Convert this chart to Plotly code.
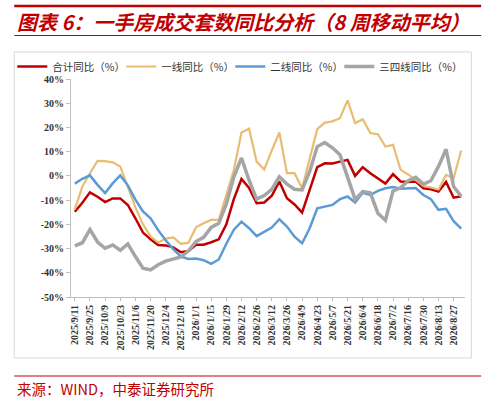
import plotly.graph_objects as go

# weekly dates (category axis)
weeks = [
    "2025/9/11", "2025/9/18", "2025/9/25", "2025/10/2", "2025/10/9", "2025/10/16",
    "2025/10/23", "2025/10/30", "2025/11/6", "2025/11/13", "2025/11/20", "2025/11/27",
    "2025/12/4", "2025/12/11", "2025/12/18", "2025/12/25", "2026/1/1", "2026/1/8",
    "2026/1/15", "2026/1/22", "2026/1/29", "2026/2/5", "2026/2/12", "2026/2/19",
    "2026/2/26", "2026/3/5", "2026/3/12", "2026/3/19", "2026/3/26", "2026/4/2",
    "2026/4/9", "2026/4/16", "2026/4/23", "2026/4/30", "2026/5/7", "2026/5/14",
    "2026/5/21", "2026/5/28", "2026/6/4", "2026/6/11", "2026/6/18", "2026/6/25",
    "2026/7/2", "2026/7/9", "2026/7/16", "2026/7/23", "2026/7/30", "2026/8/6",
    "2026/8/13", "2026/8/20", "2026/8/27", "2026/9/3",
]
x_ticks = weeks[::2]

total_yoy = [
    -14.8, -11.1, -6.8, -8.6, -10.8, -9.3, -9.3, -12.0, -17.5, -23.4, -26.2, -28.5,
    -28.7, -29.5, -31.5, -31.0, -28.4, -28.4, -27.4, -26.2, -20.0, -9.5, -1.3, -5.0,
    -11.3, -11.0, -8.2, -2.3, -9.2, -11.8, -15.2, -5.8, 3.6, 5.2, 5.1, 5.9,
    6.6, 0.0, 3.6, 1.1, -1.0, -3.2, 0.7, -2.3, -2.5, -2.3, -5.1, -5.5,
    -6.5, -2.5, -9.0, -8.4,
]
tier1_yoy = [
    -13.8, -4.4, 1.1, 6.2, 6.1, 5.6, 3.9, -4.4, -13.0, -20.0, -25.0, -27.5,
    -25.9, -25.4, -28.1, -27.6, -21.2, -19.6, -18.2, -18.2, -8.0, 2.5, 17.9, 19.5,
    5.9, 2.6, 10.5, 17.9, 1.1, 1.1, -5.1, 6.6, 19.3, 22.0, 22.5, 23.8,
    31.2, 21.8, 23.4, 17.7, 17.2, 12.1, 12.8, 2.5, 0.6, -1.7, -4.2, -4.8,
    -5.6, 0.4, -1.0, 10.5,
]
tier2_yoy = [
    -3.2, -1.2, 0.2, -3.7, -7.1, -3.1, 0.2, -3.9, -9.8, -14.7, -17.5, -22.4,
    -26.6, -30.2, -33.3, -34.3, -34.1, -34.8, -36.3, -34.5, -28.0, -22.2, -18.9, -21.6,
    -24.9, -23.2, -21.3, -17.9, -20.9, -25.1, -27.8, -21.6, -13.4, -12.7, -12.0, -9.6,
    -8.5, -11.0, -7.0, -7.9, -6.2, -5.1, -4.6, -5.3, -5.1, -5.0, -7.9, -9.6,
    -14.0, -13.6, -18.7, -21.8,
]
tier34_yoy = [
    -28.9, -27.6, -22.1, -27.3, -29.9, -28.5, -30.7, -28.1, -33.3, -38.1, -38.8, -36.7,
    -35.2, -34.2, -33.5, -30.9, -27.1, -25.4, -21.3, -19.6, -11.6, -0.4, 7.4, -1.8,
    -9.6, -8.1, -5.6, -0.4, -3.4, -5.5, -5.8, 1.8, 12.1, 13.8, 11.6, 8.7,
    0.0, -9.7, -6.5, -7.0, -15.4, -18.3, -6.2, -4.9, -2.0, -0.6, -3.4, -2.0,
    3.9, 11.0, -4.4, -8.4,
]

y_ticks = [-50, -40, -30, -20, -10, 0, 10, 20, 30, 40]
y_ticktext = [f"{v}%" for v in y_ticks]

W, H = 488, 400
L, R, T, B = 63, 465.5, 79, 297
RED = "#C00000"


def px_x(px):
    return (px - L) / (R - L)


def px_y(py):
    return (B - py) / (B - T)


# name, values, colour, line width, legend entry width
series = [
    ("合计同比（%）", total_yoy, "#C00000", 2.5, 64),
    ("一线同比（%）", tier1_yoy, "#E8BD72", 2.2, 64),
    ("二线同比（%）", tier2_yoy, "#5B9BD5", 2.5, 64),
    ("三四线同比（%）", tier34_yoy, "#A5A5A5", 3.5, 84),
]

fig = go.Figure()
for name, vals, color, width, lw in series:
    fig.add_trace(go.Scatter(
        x=weeks, y=vals, name=name, mode="lines",
        line=dict(color=color, width=width), legendwidth=lw,
    ))

tick_font = dict(family="Liberation Serif", size=10, color="#333333", weight="bold")

fig.update_layout(
    width=W, height=H,
    margin=dict(l=L, r=W - R, t=T, b=H - B, pad=0),
    paper_bgcolor="white", plot_bgcolor="white",
    showlegend=True,
    legend=dict(
        orientation="h", x=px_x(3), y=px_y(52), xanchor="left", yanchor="top",
        font=dict(family="Noto Sans CJK SC", size=10.5, color="#333333"),
        bgcolor="rgba(0,0,0,0)", itemclick=False,
    ),
    xaxis=dict(
        type="category", range=[-0.5, len(weeks) - 0.5],
        tickmode="array", tickvals=x_ticks, ticktext=x_ticks, tickangle=-90,
        tickfont=tick_font, showgrid=False, zeroline=False,
        showline=True, linecolor="#BFBFBF", linewidth=1,
        ticks="outside", ticklen=3, tickcolor="#BFBFBF",
    ),
    yaxis=dict(
        range=[-50, 40], tickmode="array", tickvals=y_ticks, ticktext=y_ticktext,
        tickfont=tick_font, showgrid=False, zeroline=False,
        showline=True, linecolor="#BFBFBF", linewidth=1,
        ticks="outside", ticklen=4, tickcolor="#BFBFBF",
    ),
    shapes=[
        dict(type="line", xref="paper", yref="paper", x0=px_x(5), x1=px_x(482),
             y0=px_y(6), y1=px_y(6), line=dict(color=RED, width=2.5)),
        dict(type="line", xref="paper", yref="paper", x0=px_x(5), x1=px_x(482),
             y0=px_y(35.5), y1=px_y(35.5), line=dict(color=RED, width=1)),
        dict(type="rect", xref="paper", yref="paper", x0=px_x(5), x1=px_x(472),
             y0=px_y(52), y1=px_y(358), line=dict(color="#D9D9D9", width=1)),
        dict(type="line", xref="paper", yref="paper", x0=px_x(5), x1=px_x(482),
             y0=px_y(376), y1=px_y(376), line=dict(color=RED, width=1)),
    ],
    annotations=[
        dict(text="图表 6：一手房成交套数同比分析（8 周移动平均）",
             xref="paper", yref="paper", x=px_x(6), y=px_y(22),
             xanchor="left", yanchor="middle", showarrow=False,
             font=dict(family="Noto Sans CJK SC", size=20, color=RED,
                       style="italic", weight="bold")),
        dict(text="来源：WIND，中泰证券研究所",
             xref="paper", yref="paper", x=px_x(6), y=px_y(388),
             xanchor="left", yanchor="middle", showarrow=False,
             font=dict(family="Noto Sans CJK SC", size=14.5, color=RED)),
    ],
)

# drop the browser's default page margin so the figure sits at the window origin
fig.write_html("out.html", config={"displayModeBar": False},
               post_script="document.body.style.margin='0';")
